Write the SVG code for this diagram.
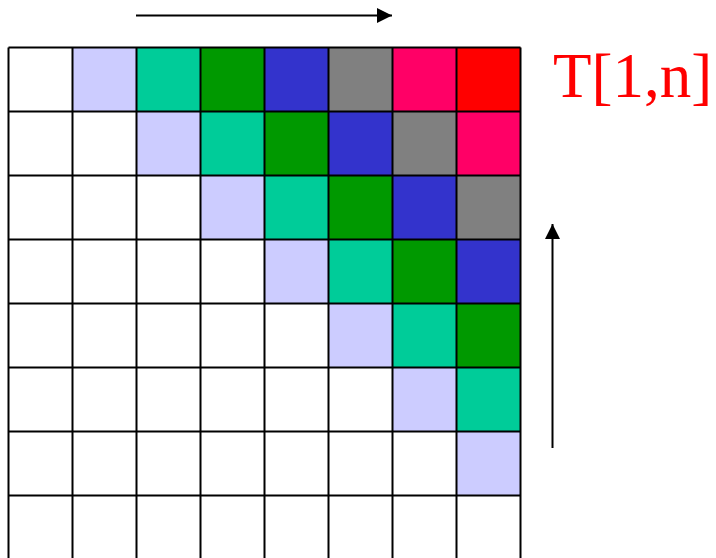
<svg xmlns="http://www.w3.org/2000/svg" width="716" height="558" viewBox="0 0 716 558">
<style>
.d1{fill:#CCCCFF}.d2{fill:#00CC99}.d3{fill:#009900}.d4{fill:#3333CC}.d5{fill:#808080}.d6{fill:#FF0066}.d7{fill:#FF0000}
.g{stroke:#000;stroke-width:2;fill:none}
.a{stroke:#000;stroke-width:2}
</style>
<defs>
<marker id="ah" viewBox="0 0 10 10" refX="10" refY="5" markerWidth="15" markerHeight="15" markerUnits="userSpaceOnUse" orient="auto">
<path d="M0,0 L10,5 L0,10 z" fill="#000"/>
</marker>
</defs>
<rect width="716" height="558" fill="#fff"/>
<g id="cells">
<rect class="d1" x="72.5" y="47.5" width="64" height="64"/>
<rect class="d2" x="136.5" y="47.5" width="64" height="64"/>
<rect class="d3" x="200.5" y="47.5" width="64" height="64"/>
<rect class="d4" x="264.5" y="47.5" width="64" height="64"/>
<rect class="d5" x="328.5" y="47.5" width="64" height="64"/>
<rect class="d6" x="392.5" y="47.5" width="64" height="64"/>
<rect class="d7" x="456.5" y="47.5" width="64" height="64"/>
<rect class="d1" x="136.5" y="111.5" width="64" height="64"/>
<rect class="d2" x="200.5" y="111.5" width="64" height="64"/>
<rect class="d3" x="264.5" y="111.5" width="64" height="64"/>
<rect class="d4" x="328.5" y="111.5" width="64" height="64"/>
<rect class="d5" x="392.5" y="111.5" width="64" height="64"/>
<rect class="d6" x="456.5" y="111.5" width="64" height="64"/>
<rect class="d1" x="200.5" y="175.5" width="64" height="64"/>
<rect class="d2" x="264.5" y="175.5" width="64" height="64"/>
<rect class="d3" x="328.5" y="175.5" width="64" height="64"/>
<rect class="d4" x="392.5" y="175.5" width="64" height="64"/>
<rect class="d5" x="456.5" y="175.5" width="64" height="64"/>
<rect class="d1" x="264.5" y="239.5" width="64" height="64"/>
<rect class="d2" x="328.5" y="239.5" width="64" height="64"/>
<rect class="d3" x="392.5" y="239.5" width="64" height="64"/>
<rect class="d4" x="456.5" y="239.5" width="64" height="64"/>
<rect class="d1" x="328.5" y="303.5" width="64" height="64"/>
<rect class="d2" x="392.5" y="303.5" width="64" height="64"/>
<rect class="d3" x="456.5" y="303.5" width="64" height="64"/>
<rect class="d1" x="392.5" y="367.5" width="64" height="64"/>
<rect class="d2" x="456.5" y="367.5" width="64" height="64"/>
<rect class="d1" x="456.5" y="431.5" width="64" height="64"/>
</g>
<g id="grid">
<path class="g" d="M8.5,47.5V560 M72.5,47.5V560 M136.5,47.5V560 M200.5,47.5V560 M264.5,47.5V560 M328.5,47.5V560 M392.5,47.5V560 M456.5,47.5V560 M520.5,47.5V560"/>
<path class="g" d="M8.5,47.5H520.5 M8.5,111.5H520.5 M8.5,175.5H520.5 M8.5,239.5H520.5 M8.5,303.5H520.5 M8.5,367.5H520.5 M8.5,431.5H520.5 M8.5,495.5H520.5"/>
</g>
<g id="connectors">
<line class="a" x1="136" y1="15.5" x2="392" y2="15.5" marker-end="url(#ah)"/>
<line class="a" x1="552.5" y1="448" x2="552.5" y2="224" marker-end="url(#ah)"/>
</g>
<g id="label">
<text x="553" y="97" font-family="'Liberation Serif', serif" font-size="63" fill="#FF0000">T[1,n]</text>
</g>
</svg>
